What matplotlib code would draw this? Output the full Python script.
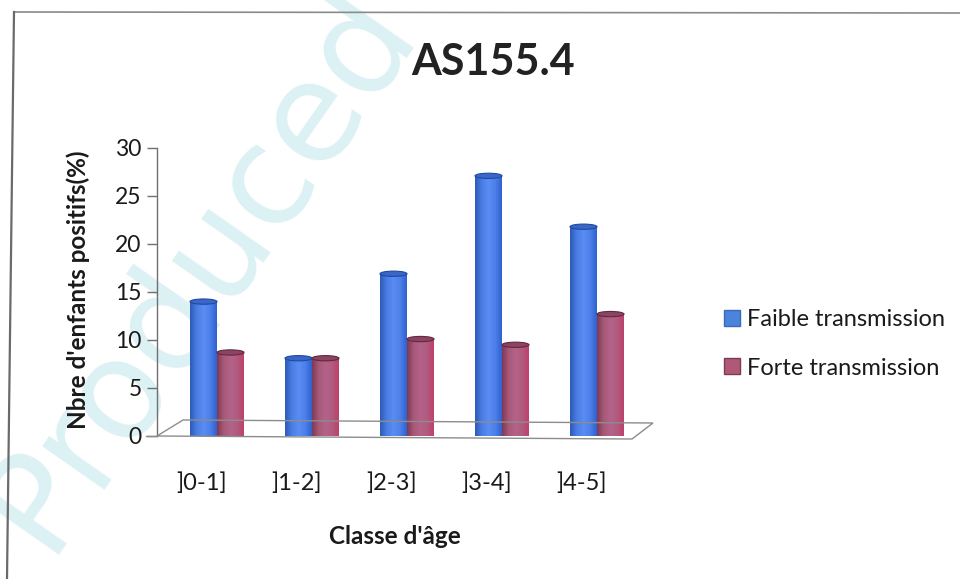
import numpy as np
import matplotlib
matplotlib.use("Agg")
import matplotlib.pyplot as plt
from matplotlib.patches import Ellipse, Polygon, Patch
from matplotlib.lines import Line2D
from matplotlib.colors import LinearSegmentedColormap

plt.rcParams['font.family'] = ['Lato', 'DejaVu Sans']

# Data
categories = [']0-1]', ']1-2]', ']2-3]', ']3-4]', ']4-5]']
faible = [14.0, 8.1, 16.9, 27.1, 21.8]
forte = [8.7, 8.1, 10.1, 9.5, 12.7]
series_names = ['Faible transmission', 'Forte transmission']
title = 'AS155.4'
ylabel = "Nbre d'enfants positifs(%)"
xlabel = "Classe d'âge"
yticks = [0, 5, 10, 15, 20, 25, 30]

W, H = 960, 579
fig = plt.figure(figsize=(W / 100, H / 100), dpi=100)
fig.patch.set_facecolor('white')


def px(x, y):
    """pixel coords (origin top-left) -> figure fraction"""
    return x / W, 1 - y / H


# faint watermark behind everything
fig.text(*px(200, 268), 'Produced', fontsize=100, color='#dcf1f4',
         rotation=55, ha='center', va='center', zorder=-1,
         family='DejaVu Sans')

# outer frame of the chart
fig.add_artist(Line2D([14 / W, 960 / W], [1 - 12 / H, 1 - 13 / H],
                      transform=fig.transFigure, color='#8a8a8a', lw=1.2))
fig.add_artist(Line2D([14 / W, 7 / W], [1 - 12 / H, 0],
                      transform=fig.transFigure, color='#6a6a6a', lw=1.6))

# plotting area
ax_l, ax_r, ax_t, ax_b = 157, 653, 148, 436
ax = fig.add_axes([ax_l / W, 1 - ax_b / H, (ax_r - ax_l) / W, (ax_b - ax_t) / H])
ax.patch.set_alpha(0)

ppu = 95.0  # pixels per category
x0 = 217.0
ax.set_xlim(-(x0 - ax_l) / ppu, (ax_r - x0) / ppu)
ax.set_ylim(0, 30)

# 3D floor
floor = Polygon([px(157, 436), px(632, 439), px(653, 423), px(183, 420)],
                closed=True, fill=False, edgecolor='#8c8c8c', lw=1.0,
                transform=fig.transFigure, zorder=1)
fig.add_artist(floor)
fig.add_artist(Line2D([146 / W, 157 / W], [1 - 436 / H, 1 - 436 / H],
                      transform=fig.transFigure, color='#8c8c8c', lw=1.0))

bw = 27 / ppu
idx = np.arange(len(categories))

blue_cmap = LinearSegmentedColormap.from_list(
    'b', ['#2d5bb5', '#4a7ee6', '#5a8cf2', '#4e80ea', '#2f62d0'])
red_cmap = LinearSegmentedColormap.from_list(
    'r', ['#7e3a55', '#a85a78', '#b4628a', '#b05c80', '#c0406a'])
grad = np.linspace(0, 1, 64).reshape(1, -1)

ell_h = 0.55
for vals, off, cmap, cap, edge in [
        (faible, -bw / 2, blue_cmap, '#3a66c8', '#1e4aa0'),
        (forte, bw / 2, red_cmap, '#8e4362', '#5e2a40')]:
    bars = ax.bar(idx + off, vals, width=bw, color='none', zorder=3)
    for b in bars:
        x, w, h = b.get_x(), b.get_width(), b.get_height()
        # bottom rounding
        ax.add_patch(Ellipse((x + w / 2, 0), w, ell_h, facecolor=cmap(0.5),
                             edgecolor='none', zorder=2))
        im = ax.imshow(grad, cmap=cmap, aspect='auto',
                       extent=(x, x + w, 0, h), zorder=3)
        im.set_clip_path(b)
        ax.add_patch(Ellipse((x + w / 2, h), w, ell_h, facecolor=cap,
                             edgecolor=edge, lw=0.8, zorder=4))

# axes styling
for s in ['top', 'right', 'bottom']:
    ax.spines[s].set_visible(False)
ax.spines['left'].set_color('#707070')
ax.spines['left'].set_linewidth(1.0)
ax.set_yticks(yticks)
ax.set_yticklabels([str(v) for v in yticks], fontsize=16.5, color='#1a1a1a')
ax.tick_params(axis='y', length=7, width=1, color='#707070', pad=4)
ax.set_xticks(idx - 0.16)
ax.set_xticklabels(categories, fontsize=17, color='#1a1a1a')
ax.tick_params(axis='x', length=0, pad=26)

fig.text(*px(78, 290), ylabel, rotation=90, ha='center', va='center',
         fontsize=17.5, fontweight='bold', color='#1a1a1a')
fig.text(*px(395, 537), xlabel, ha='center', va='center',
         fontsize=17.5, fontweight='bold', color='#1a1a1a')
fig.text(*px(493, 62), title, ha='center', va='center',
         fontsize=31, fontweight='bold', color='#222222')

handles = [Patch(facecolor='#4a84dc', edgecolor='#3a6ab8'),
           Patch(facecolor='#b05878', edgecolor='#7e3a55')]
leg = fig.legend(handles, series_names, loc='center left',
                 bbox_to_anchor=px(703, 344), frameon=False, fontsize=17,
                 handlelength=0.65, handleheight=0.65, handletextpad=0.3,
                 labelspacing=1.15)
for t in leg.get_texts():
    t.set_color('#1a1a1a')

fig.savefig('out.png', dpi=100, facecolor='white')
